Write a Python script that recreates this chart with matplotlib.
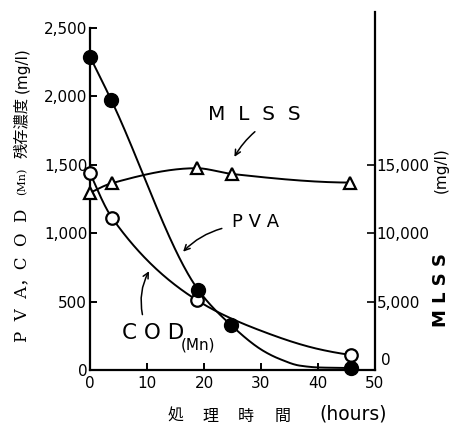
import numpy as np
import matplotlib.pyplot as plt

# treatment time (hours) and concentrations (mg/l)
pva_hours = [0, 3.7, 19.0, 24.7, 45.8]
pva_vals = [2290, 1976, 585, 330, 15]
cod_hours = [0, 3.9, 18.7, 45.8]
cod_vals = [1440, 1110, 512, 110]
mlss_hours = [0, 3.8, 18.7, 24.9, 45.7]
mlss_vals = [12950, 13650, 14750, 14330, 13700]

# hand-drawn trend lines (PVA flattens out near zero after ~38 h)
pva_curve_hours = [0, 3.7, 19.0, 24.7, 30.4, 33.3, 36.8, 40.4, 45.8]
pva_curve_vals = [2290, 1976, 585, 330, 140, 80, 32, 18, 15]
cod_curve_hours = [0, 3.9, 18.7, 29.8, 40.4, 45.8]
cod_curve_vals = [1440, 1110, 512, 290, 150, 110]

left_ticks = [0, 500, 1000, 1500, 2000, 2500]
left_labels = ['0', '500', '1,000', '1,500', '2,000', '2,500']
right_ticks = [5000, 10000, 15000]
right_labels = ['5,000', '10,000', '15,000']
x_ticks = [0, 10, 20, 30, 40, 50]
x_title_chars = ['処', '理', '時', '間']


def pchip(x, y, xs):
    # monotone cubic (Fritsch-Carlson) so the curves don't overshoot
    x = np.asarray(x, float)
    y = np.asarray(y, float)
    h = np.diff(x)
    d = np.diff(y) / h
    m = np.zeros_like(y)
    for k in range(1, len(x) - 1):
        if d[k - 1] * d[k] > 0:
            w1 = 2 * h[k] + h[k - 1]
            w2 = h[k] + 2 * h[k - 1]
            m[k] = (w1 + w2) / (w1 / d[k - 1] + w2 / d[k])
    m[0] = ((2 * h[0] + h[1]) * d[0] - h[0] * d[1]) / (h[0] + h[1])
    if np.sign(m[0]) != np.sign(d[0]):
        m[0] = 0
    m[-1] = ((2 * h[-1] + h[-2]) * d[-1] - h[-1] * d[-2]) / (h[-1] + h[-2])
    if np.sign(m[-1]) != np.sign(d[-1]):
        m[-1] = 0
    i = np.clip(np.searchsorted(x, xs) - 1, 0, len(h) - 1)
    t = (xs - x[i]) / h[i]
    h00 = 2 * t**3 - 3 * t**2 + 1
    h10 = t**3 - 2 * t**2 + t
    h01 = -2 * t**3 + 3 * t**2
    h11 = t**3 - t**2
    return h00 * y[i] + h10 * h[i] * m[i] + h01 * y[i + 1] + h11 * h[i] * m[i + 1]


W, H = 459, 426
fig = plt.figure(figsize=(W / 100, H / 100), dpi=100)
ax = fig.add_axes([90 / W, 56 / H, 285 / W, 342 / H])
ax2 = ax.twinx()

lw = 1.4
xs = np.linspace(0, pva_curve_hours[-1], 300)
ax.plot(xs, pchip(pva_curve_hours, pva_curve_vals, xs), color='black', lw=lw, zorder=2)
xs = np.linspace(0, cod_curve_hours[-1], 300)
ax.plot(xs, pchip(cod_curve_hours, cod_curve_vals, xs), color='black', lw=lw, zorder=2)
ax.plot(pva_hours, pva_vals, 'o', ms=10, mfc='black', mec='black', zorder=4, clip_on=False)
ax.plot(cod_hours, cod_vals, 'o', ms=9, mfc='white', mec='black', mew=1.6, zorder=3, clip_on=False)

xs = np.linspace(0, mlss_hours[-1], 300)
ax2.plot(xs, pchip(mlss_hours, mlss_vals, xs), color='black', lw=lw, zorder=2)
ax2.plot(mlss_hours, mlss_vals, '^', ms=9, mfc='white', mec='black', mew=1.6, zorder=3, clip_on=False)

ax.set_xlim(0, 50)
ax.set_ylim(0, 2500)
ax2.set_ylim(0, 25000)

for a in (ax, ax2):
    a.spines['top'].set_visible(False)
    for s in a.spines.values():
        s.set_linewidth(1.6)
ax.spines['right'].set_visible(False)
ax2.spines['left'].set_visible(False)
ax2.spines['bottom'].set_visible(False)
ax2.spines['right'].set_bounds(0, 26200)

ax.set_xticks(x_ticks)
ax.set_xticklabels([str(v) for v in x_ticks])
ax.set_yticks(left_ticks)
ax.set_yticklabels(left_labels)
ax.tick_params(axis='x', direction='in', length=5, width=1.4, pad=4, labelsize=11)
ax.tick_params(axis='y', direction='in', length=5, width=1.4, pad=2, labelsize=11)

ax2.set_yticks(right_ticks)
ax2.set_yticklabels(right_labels)
ax2.tick_params(axis='y', direction='in', length=6, width=1.2, pad=1, labelsize=11)
ax2.text(1.02, 180, '0', transform=ax2.get_yaxis_transform(), fontsize=11,
         ha='left', va='bottom')


def px(x, y):
    return x / W, 1 - y / H


# left axis title, built from pieces (bottom to top)
fig.text(*px(22, 275), 'P  V  A，C  O  D', rotation=90, ha='center', va='center',
         family=['DejaVu Serif', 'Noto Sans CJK JP'], fontsize=12)
fig.text(*px(22, 181), '(Mn)', rotation=90, ha='center', va='center',
         family='DejaVu Serif', fontsize=8)
fig.text(*px(22, 127), '残存濃度', rotation=90, ha='center', va='center',
         family='Noto Sans CJK JP', fontsize=11)
fig.text(*px(22, 70), '(mg/l)', rotation=90, ha='center', va='center', fontsize=11)

# right axis title
fig.text(*px(441, 290), 'M L S S', rotation=90, ha='center', va='center',
         fontsize=13, fontweight='bold')
fig.text(*px(441, 170), '(mg/l)', rotation=90, ha='center', va='center', fontsize=11)

# x axis title
for ch, cx in zip(x_title_chars, [176, 210, 246, 283]):
    fig.text(*px(cx, 416), ch, ha='center', va='center',
             family='Noto Sans CJK JP', fontsize=11.5)
fig.text(*px(353, 414), '(hours)', ha='center', va='center', fontsize=13.5)

# curve labels
ax.text(28.8, 1867, 'M  L  S  S', ha='center', va='center', fontsize=14.5)
ax.annotate('', xy=(25.1, 1540), xytext=(29.3, 1755),
            arrowprops=dict(arrowstyle='->', lw=1.1, color='black',
                            connectionstyle='arc3,rad=0.1'))
ax.text(29.1, 1083, 'P V A', ha='center', va='center', fontsize=13)
ax.annotate('', xy=(16.0, 850), xytext=(23.6, 1040),
            arrowprops=dict(arrowstyle='->', lw=1.1, color='black',
                            connectionstyle='arc3,rad=0.15'))
ax.text(5.6, 271, 'C O D', ha='left', va='center', fontsize=15.5)
ax.text(15.9, 180, '(Mn)', ha='left', va='center', fontsize=11)
ax.annotate('', xy=(10.6, 740), xytext=(9.3, 385),
            arrowprops=dict(arrowstyle='->', lw=1.1, color='black',
                            connectionstyle='arc3,rad=-0.2'))

fig.savefig('out.png', dpi=100)
